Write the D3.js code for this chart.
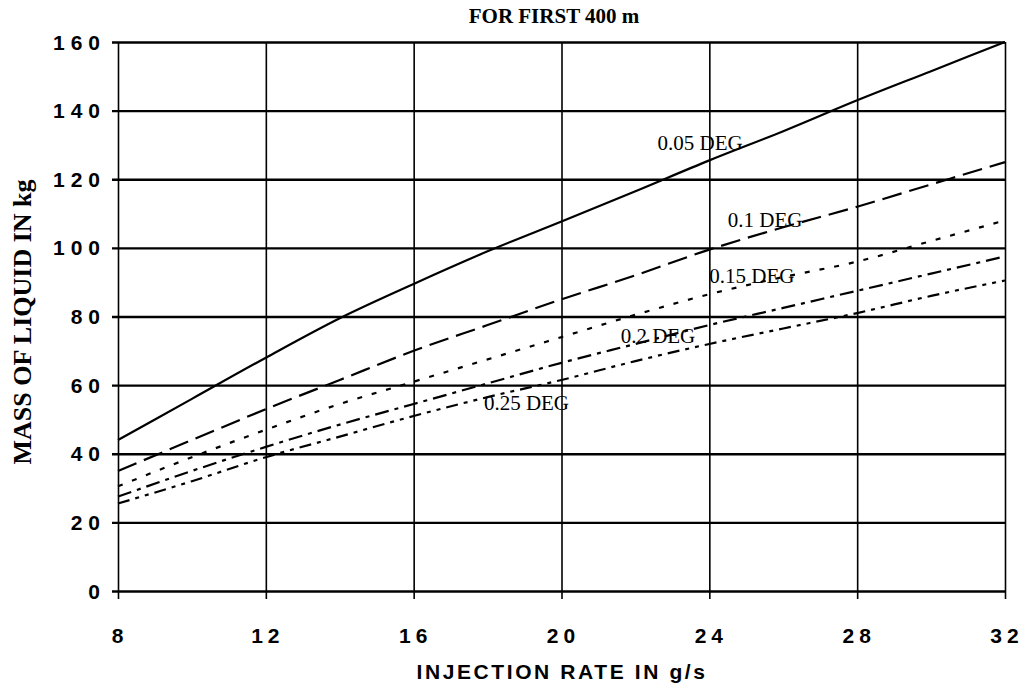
<!DOCTYPE html>
<html>
<head>
<meta charset="utf-8">
<script src="https://cdn.jsdelivr.net/npm/d3@7"></script>
<style>
  body { margin: 0; background: #fff; }
  svg { display: block; }
</style>
</head>
<body>
<div id="chart"></div>
<script>
// data
var rates = [8, 10, 12, 14, 16, 18, 20, 22, 24, 26, 28, 30, 32];
var deg005 = [44, 56, 68, 79.5, 89.5, 99, 107.7, 116.5, 125.5, 134, 143, 151.5, 160];
var deg010 = [35, 44, 53, 61.5, 70, 77.5, 85, 92, 99.5, 106, 112, 118.5, 125];
var deg015 = [30.5, 39, 47, 54.5, 61, 67.5, 74, 80.5, 86.5, 91.5, 96, 102, 108];
var deg020 = [27.5, 35, 42, 48.5, 54.5, 60.5, 66.5, 72, 77.5, 82.5, 87.5, 92.5, 97.5];
var deg025 = [25.5, 32, 39, 45, 51, 56.5, 61.5, 67, 72, 76.5, 81, 86, 90.5];
var seriesNames = ['0.05 DEG', '0.1 DEG', '0.15 DEG', '0.2 DEG', '0.25 DEG'];
var xTicks = [8, 12, 16, 20, 24, 28, 32];
var yTicks = [0, 20, 40, 60, 80, 100, 120, 140, 160];

var series = [
    {name: seriesNames[0], values: deg005, dash: null,            label: [22.6, 128.6]},
    {name: seriesNames[1], values: deg010, dash: '20,8',          label: [24.5, 106]},
    {name: seriesNames[2], values: deg015, dash: '5,10',          label: [24.0, 89.8]},
    {name: seriesNames[3], values: deg020, dash: '14,6,4,6',      label: [21.6, 72.3]},
    {name: seriesNames[4], values: deg025, dash: '12,6,4,6,4,6',  label: [17.9, 52.8]}
];

var width = 1025, height = 695;
var margin = {top: 42, left: 118, right: 20, bottom: 104};

var svg = d3.select('#chart')
    .append('svg')
    .attr('width', width)
    .attr('height', height);

var x = d3.scaleLinear()
    .domain([8, 32])
    .range([margin.left, width - margin.right]);

var y = d3.scaleLinear()
    .domain([0, 160])
    .range([height - margin.bottom, margin.top]);

// horizontal grid
svg.append('g')
    .attr('class', 'grid-y')
    .attr('transform', 'translate(' + margin.left + ',0)')
    .call(d3.axisLeft(y)
        .tickValues(yTicks)
        .tickSize(-(width - margin.left - margin.right))
        .tickSizeOuter(0)
        .tickFormat(''))
    .call(function(g) { g.select('.domain').remove(); })
    .selectAll('line')
    .attr('stroke', '#000')
    .attr('stroke-width', 2.4)
    .attr('x1', -6);

// vertical grid
svg.append('g')
    .attr('class', 'grid-x')
    .attr('transform', 'translate(0,' + (height - margin.bottom) + ')')
    .call(d3.axisBottom(x)
        .tickValues(xTicks)
        .tickSize(-(height - margin.top - margin.bottom))
        .tickSizeOuter(0)
        .tickFormat(''))
    .call(function(g) { g.select('.domain').remove(); })
    .selectAll('line')
    .attr('stroke', '#000')
    .attr('stroke-width', 1.6)
    .attr('y1', 8);

// y tick labels
svg.selectAll('text.ylab')
    .data(yTicks)
    .enter()
    .append('text')
    .attr('class', 'ylab')
    .attr('x', 106)
    .attr('y', function(d) { return y(d) + 7.5; })
    .attr('text-anchor', 'end')
    .style('font-family', '"Liberation Sans", Arial, sans-serif')
    .style('font-weight', 'bold')
    .style('font-size', '21px')
    .style('letter-spacing', '6px')
    .text(function(d) { return d; });

// x tick labels
svg.selectAll('text.xlab')
    .data(xTicks)
    .enter()
    .append('text')
    .attr('class', 'xlab')
    .attr('x', function(d) { return x(d) + 2; })
    .attr('y', 643)
    .attr('text-anchor', 'middle')
    .style('font-family', '"Liberation Sans", Arial, sans-serif')
    .style('font-weight', 'bold')
    .style('font-size', '21px')
    .style('letter-spacing', '5px')
    .text(function(d) { return d; });

// curves
var line = d3.line()
    .x(function(d, i) { return x(rates[i]); })
    .y(function(d) { return y(d); })
    .curve(d3.curveMonotoneX);

svg.selectAll('path.curve')
    .data(series)
    .enter()
    .append('path')
    .attr('class', 'curve')
    .attr('fill', 'none')
    .attr('stroke', '#000')
    .attr('stroke-width', 2.2)
    .attr('stroke-dasharray', function(d) { return d.dash; })
    .attr('d', function(d) { return line(d.values); });

// curve labels
svg.selectAll('text.curve-label')
    .data(series)
    .enter()
    .append('text')
    .attr('class', 'curve-label')
    .attr('x', function(d) { return x(d.label[0]); })
    .attr('y', function(d) { return y(d.label[1]); })
    .style('font-family', '"Liberation Serif", "Times New Roman", serif')
    .style('font-size', '21px')
    .text(function(d) { return d.name; });

// titles
svg.append('text')
    .attr('x', 554)
    .attr('y', 23)
    .attr('text-anchor', 'middle')
    .style('font-family', '"Liberation Serif", "Times New Roman", serif')
    .style('font-weight', 'bold')
    .style('font-size', '21px')
    .text('FOR FIRST 400 m');

svg.append('text')
    .attr('x', 562)
    .attr('y', 679)
    .attr('text-anchor', 'middle')
    .style('font-family', '"Liberation Sans", Arial, sans-serif')
    .style('font-weight', 'bold')
    .style('font-size', '21px')
    .style('letter-spacing', '2.6px')
    .text('INJECTION RATE IN g/s');

svg.append('text')
    .attr('transform', 'translate(31,322) rotate(-90)')
    .attr('text-anchor', 'middle')
    .style('font-family', '"Liberation Serif", "Times New Roman", serif')
    .style('font-weight', 'bold')
    .style('font-size', '26px')
    .text('MASS OF LIQUID IN kg');
</script>
</body>
</html>
